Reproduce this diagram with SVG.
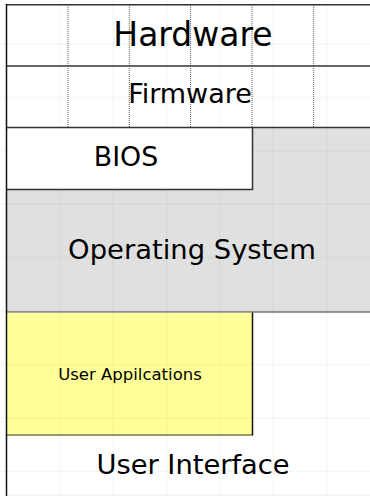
<svg xmlns="http://www.w3.org/2000/svg" width="370" height="496" viewBox="0 0 370 496">
<style>
text{font-family:"DejaVu Sans","Liberation Sans",sans-serif;fill:#000;text-anchor:middle}
.grid{stroke:#000;stroke-opacity:0.035;stroke-width:1.5;fill:none}
.edge{stroke:#333;stroke-width:1.5;fill:none}
.dot{stroke:#555;stroke-width:1;stroke-dasharray:1 1;fill:none}
</style>
<rect x="0" y="0" width="370" height="496" fill="#fff"/>
<g id="os">
<path d="M6.5 127.5H370V312H6.5V189.5H252.5V127.5Z" fill="#e0e0e0"/>
<line x1="6.5" y1="312" x2="370" y2="312" stroke="#777" stroke-width="1.5"/>
<text x="192" y="259" font-size="27.4">Operating System</text>
</g>
<g id="apps">
<rect x="6.5" y="312.8" width="246" height="122.2" fill="#ffff99"/>
<line x1="6.5" y1="435" x2="252.5" y2="435" stroke="#777744" stroke-width="1.5"/>
<line x1="252.5" y1="312.5" x2="252.5" y2="435.5" stroke="#111" stroke-width="1.5"/>
<text x="130" y="379.5" font-size="16.5">User Appilcations</text>
</g>
<g id="ui">
<text x="193" y="474" font-size="27.3">User Interface</text>
</g>
<g id="background-grid" class="grid">
<path d="M60 0V496M113.3 0V496M166.6 0V496M219.9 0V496M273.2 0V496M326.5 0V496"/>
<path d="M0 44H370M0 97.4H370M0 150.8H370M0 204.2H370M0 257.6H370M0 311H370M0 364.4H370M0 417.8H370M0 471.2H370"/>
</g>
<g id="hardware">
<line class="edge" x1="6.5" y1="4.8" x2="370" y2="4.8"/>
<path class="dot" d="M68 4.8V66M129.3 4.8V66M190.6 4.8V66M252 4.8V66M313.7 4.8V66"/>
<text x="193" y="46" font-size="33">Hardware</text>
</g>
<g id="firmware">
<line class="edge" x1="6.5" y1="66" x2="370" y2="66"/>
<path class="dot" d="M68 66V127.5M129.3 66V127.5M190.6 66V127.5M252 66V127.5M313.7 66V127.5"/>
<text x="190" y="103" font-size="27">Firmware</text>
</g>
<g id="bios">
<rect x="6.5" y="127.6" width="246" height="61.8" fill="#fff"/>
<path class="edge" d="M6.5 127.6H370M252.5 127.6V189.4H6.5"/>
<text x="126" y="166" font-size="26.8">BIOS</text>
</g>
<g id="connectors">
<line x1="6.5" y1="4" x2="6.5" y2="496" stroke="#111" stroke-width="1.5"/>
<line x1="6.5" y1="495" x2="370" y2="495" stroke="#000" stroke-opacity="0.08" stroke-width="1"/>
</g>
</svg>
